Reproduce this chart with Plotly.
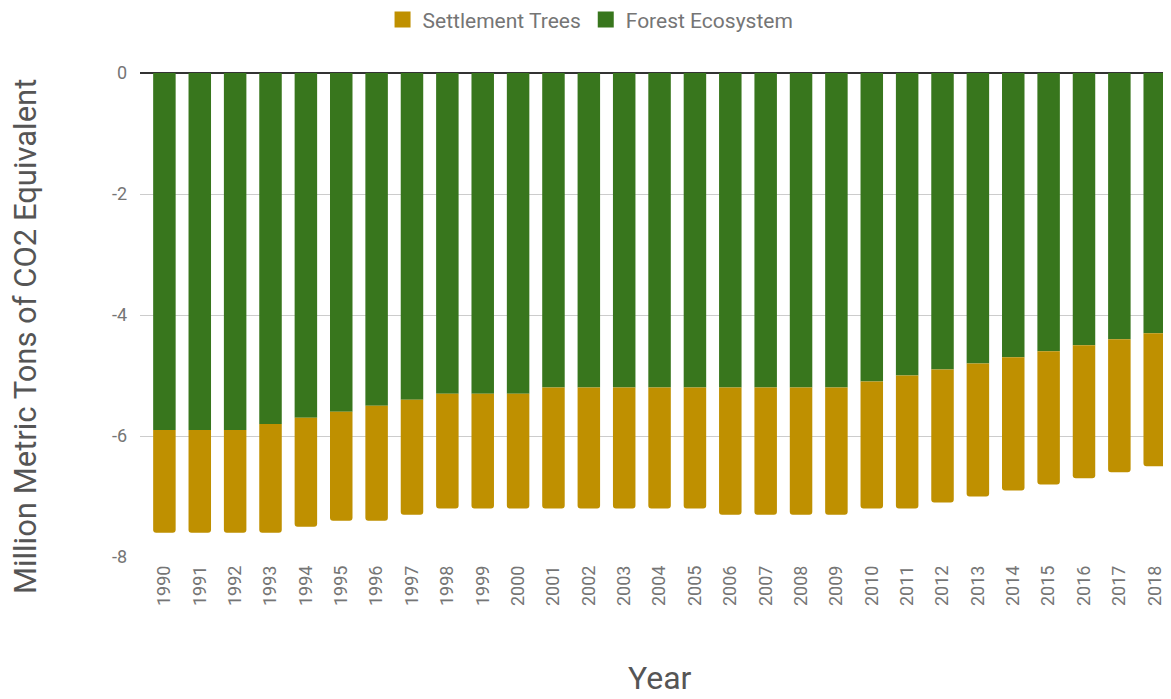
import plotly.graph_objects as go

years = [str(y) for y in range(1990, 2019)]
forest_ecosystem = [-5.9, -5.9, -5.9, -5.8, -5.7, -5.6, -5.5, -5.4, -5.3, -5.3,
                    -5.3, -5.2, -5.2, -5.2, -5.2, -5.2, -5.2, -5.2, -5.2, -5.2,
                    -5.1, -5.0, -4.9, -4.8, -4.7, -4.6, -4.5, -4.4, -4.3]
settlement_trees = [-1.7, -1.7, -1.7, -1.8, -1.8, -1.8, -1.9, -1.9, -1.9, -1.9,
                    -1.9, -2.0, -2.0, -2.0, -2.0, -2.0, -2.1, -2.1, -2.1, -2.1,
                    -2.1, -2.2, -2.2, -2.2, -2.2, -2.2, -2.2, -2.2, -2.2]
y_ticks = [0, -2, -4, -6, -8]

FOREST = "#38761D"
SETTLE = "#BF9000"

fig = go.Figure()
fig.add_trace(go.Bar(x=years, y=forest_ecosystem, name="Forest Ecosystem",
                     marker=dict(color=FOREST, line=dict(width=0)), showlegend=False))
fig.add_trace(go.Bar(x=years, y=settlement_trees, name="Settlement Trees",
                     marker=dict(color=SETTLE, line=dict(width=0)), showlegend=False))
# legend entries with larger square swatches
fig.add_trace(go.Scatter(x=[None], y=[None], mode="markers", name="Settlement Trees",
                         marker=dict(symbol="square", size=20, color=SETTLE), legendrank=1))
fig.add_trace(go.Scatter(x=[None], y=[None], mode="markers", name="Forest Ecosystem",
                         marker=dict(symbol="square", size=20, color=FOREST), legendrank=2))

fig.update_layout(
    width=1163, height=691, autosize=False,
    barmode="relative", bargap=0.364, barcornerradius=3,
    plot_bgcolor="white", paper_bgcolor="white",
    font=dict(family="Roboto", color="#757575", size=18),
    margin=dict(l=132, r=0, t=65, b=142, autoexpand=False),
    legend=dict(orientation="h", x=0.437, xanchor="center", y=1.11, yanchor="middle",
                font=dict(size=21, color="#757575"), itemclick=False),
    showlegend=True,
)
fig.update_xaxes(type="category", range=[-0.69, 28.46], tickangle=-90,
                 showgrid=False, ticks="", showline=False, ticklabelstandoff=4,
                 tickfont=dict(size=18, color="#757575"))
fig.update_yaxes(range=[-8, 0], tickvals=y_ticks, ticktext=[str(v) for v in y_ticks],
                 showgrid=True, gridcolor="#cccccc", gridwidth=1,
                 zeroline=True, zerolinecolor="#333333", zerolinewidth=1.5,
                 ticks="", ticklabelstandoff=12,
                 tickfont=dict(size=18, color="#757575"))

fig.add_annotation(text="Million Metric Tons of CO2 Equivalent", textangle=-90,
                   xref="paper", yref="paper", x=-0.1115, y=0.4545,
                   xanchor="center", yanchor="middle", showarrow=False,
                   font=dict(size=31, color="#555555"))
fig.add_annotation(text="Year", xref="paper", yref="paper", x=0.504, y=-0.249,
                   xanchor="center", yanchor="middle", showarrow=False,
                   font=dict(size=32, color="#555555"))

fig.write_html("out.html")
